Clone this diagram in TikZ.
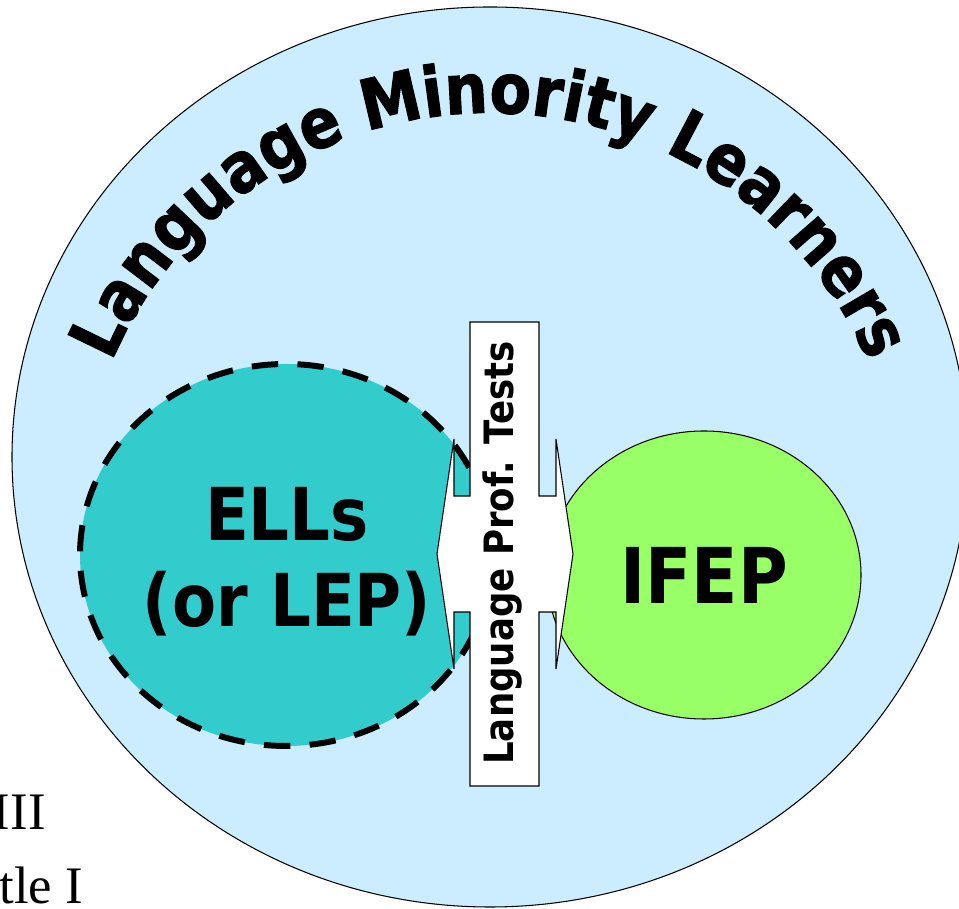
\documentclass[tikz,border=0pt]{standalone}
\usepackage{fontspec}
\usetikzlibrary{decorations.text}
\newfontfamily\diagfont[FakeStretch=0.88]{DejaVu Sans Bold}
\newfontfamily\arcfamily[FakeStretch=0.87, FakeBold=1.6]{DejaVu Sans Bold}
\newfontfamily\notefont{Liberation Serif}
\definecolor{lmlBlue}  {RGB}{204,236,255}
\definecolor{ellTeal}  {RGB}{ 51,204,204}
\definecolor{ifepGreen}{RGB}{153,255,102}
\newcommand{\arcfont}{\arcfamily\fontsize{39.5pt}{44pt}\selectfont}

\begin{document}
\begin{tikzpicture}[
  x=0.2mm, y=0.2mm,
  group/.style={line width=0.6pt, draw=black},
  bigtxt/.style={inner sep=0pt, align=center, text=black},
  flow/.style={fill=white, draw=black, line width=0.6pt, line join=miter},
]
\useasboundingbox (0,0) rectangle (959,909);
\clip (0,0) rectangle (959,909);

%% ── Outer set: language minority learners ───────────────────────────────────
\draw[group, fill=lmlBlue] (490,452) ellipse [x radius=95.6mm, y radius=90mm];

%% ── Inner sets ───────────────────────────────────────────────────────────────
\draw[group, fill=ifepGreen] (704,334) ellipse [x radius=31.4mm, y radius=28.8mm];
\fill[ellTeal] (286,354) ellipse [x radius=41.2mm, y radius=38.2mm];
\draw[line width=3.4pt, dash pattern=on 15pt off 11pt]
  (286,354) ellipse [x radius=41.2mm, y radius=38.2mm];

%% ── Double arrow with test bar ───────────────────────────────────────────────
\draw[flow]
  (470,587) -- (539,587) -- (539,413) -- (556,413) -- (556,470) -- (573,355)
  -- (556,240) -- (556,297) -- (539,297) -- (539,123) -- (470,123)
  -- (470,297) -- (454,297) -- (454,240) -- (437,355) -- (454,470)
  -- (454,413) -- (470,413) -- cycle;

%% ── Labels ───────────────────────────────────────────────────────────────────
\path[decorate, decoration={text along path, text align=center,
      text={|\arcfont|Language Minority Learners}}]
  (490,384) ++(162:82.4mm) arc[start angle=162, end angle=18, radius=82.4mm];

\node[bigtxt, anchor=north, font=\diagfont\fontsize{41.5pt}{48.9pt}\selectfont]
  (ELL) at (287,422) {ELLs\\(or LEP)};

\node[bigtxt, font=\diagfont\fontsize{43.8pt}{50pt}\selectfont]
  (IFEP) at (704,334) {IFEP};

\node[bigtxt, rotate=90, anchor=base, font=\diagfont\fontsize{23pt}{26pt}\selectfont]
  (PROF) at (513,356) {Language Prof. Tests};

%% ── Cut-off page text ────────────────────────────────────────────────────────
\node[inner sep=0pt, anchor=base east, font=\notefont\fontsize{30pt}{34pt}\selectfont]
  (T3) at (46,79) {III};
\node[inner sep=0pt, anchor=base west, font=\notefont\fontsize{30pt}{34pt}\selectfont]
  (T1) at (-1,5) {tle I};

\end{tikzpicture}
\end{document}
